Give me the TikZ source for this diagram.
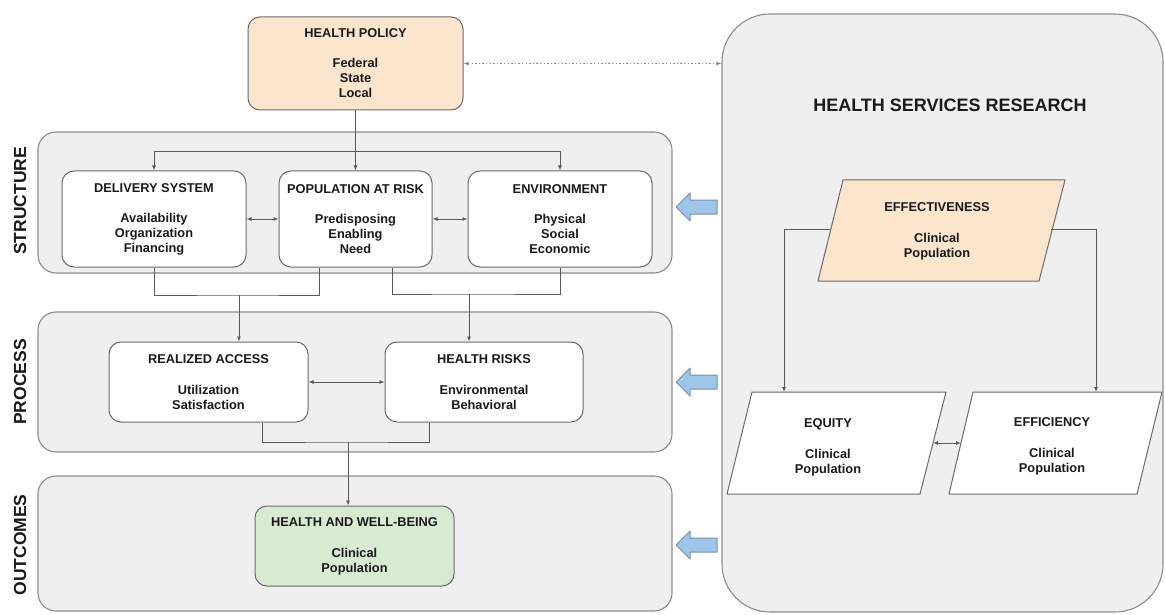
\documentclass[tikz,border=0pt]{standalone}
\usepackage{fontspec}
\setmainfont{Liberation Sans}
\usetikzlibrary{arrows.meta,calc}
\definecolor{panel}{HTML}{EFEFEF}
\definecolor{panelline}{HTML}{8C8C8C}
\definecolor{boxline}{HTML}{6B6B6B}
\definecolor{peach}{HTML}{FCE5CD}
\definecolor{mint}{HTML}{D9EAD3}
\definecolor{bluefill}{HTML}{9FC5E8}
\definecolor{blueline}{HTML}{7A8FA6}
\definecolor{conncol}{HTML}{5A5A5A}
\definecolor{dotcol}{HTML}{8A8A8A}
\definecolor{inkcol}{HTML}{1A1A1A}
\begin{document}
\begin{tikzpicture}[x=1pt,y=-1pt,
  panelbox/.style={draw=panelline,fill=panel,line width=1.1pt,rounded corners=18pt,inner sep=0pt},
  txt/.style={font=\fontsize{12.8}{15}\selectfont\bfseries,align=center,text=inkcol},
  box/.style={txt,draw=boxline,fill=white,line width=1pt,rounded corners=12pt,inner sep=0pt},
  tipa/.tip={Latex[length=5pt,width=4pt]},
  conn/.style={draw=conncol,line width=0.9pt,-tipa},
  conntwo/.style={draw=conncol,line width=0.9pt,tipa-tipa},
  wire/.style={draw=conncol,line width=0.9pt},
  sidelabel/.style={font=\fontsize{17.5}{20}\selectfont\bfseries,text=inkcol,rotate=90},
  bluearrow/.style={draw=blueline,fill=bluefill,line width=1pt,line join=round},
  para/.style={draw=boxline,line width=1pt,line join=round},
  leftarrow/.pic={\draw[bluearrow] (0,0) -- (14,-14) -- (14,-7) -- (41,-7) -- (41,7) -- (14,7) -- (14,14) -- cycle;}
]
\useasboundingbox (0,0) rectangle (1165,615);

% panels
\node[panelbox, minimum width=634pt, minimum height=141pt] (structure) at (355,202.5) {};
\node[panelbox, minimum width=634pt, minimum height=140pt] (process) at (355,382) {};
\node[panelbox, minimum width=634pt, minimum height=135pt] (outcomes) at (355,543.5) {};
\node[panelbox, rounded corners=48pt, minimum width=441pt, minimum height=598pt] (hsr) at (942.5,313) {};

% side labels
\node[sidelabel] (lstruct) at (20,201) {STRUCTURE};
\node[sidelabel] (lproc) at (20,382) {PROCESS};
\node[sidelabel] (lout) at (20,545) {OUTCOMES};

% health policy
\node[box, fill=peach, minimum width=215pt, minimum height=93pt] (hp) at (355.5,63.5)
  {HEALTH POLICY\\[15pt]Federal\\State\\Local};

% structure boxes
\node[box, minimum width=184pt, minimum height=96pt] (del) at (154,219)
  {DELIVERY SYSTEM\\[15pt]Availability\\Organization\\Financing};
\node[box, minimum width=153pt, minimum height=96pt] (pop) at (355.5,219)
  {POPULATION AT RISK\\[15pt]Predisposing\\Enabling\\Need};
\node[box, minimum width=184pt, minimum height=96pt] (env) at (560,219)
  {ENVIRONMENT\\[15pt]Physical\\Social\\Economic};

% process boxes
\node[box, minimum width=199pt, minimum height=80pt] (ra) at (208.5,382)
  {REALIZED ACCESS\\[16pt]Utilization\\Satisfaction};
\node[box, minimum width=198pt, minimum height=80pt] (hr) at (484,382)
  {HEALTH RISKS\\[16pt]Environmental\\Behavioral};

% outcome box
\node[box, fill=mint, minimum width=199pt, minimum height=80pt] (hwb) at (354.5,546)
  {HEALTH AND WELL-BEING\\[16pt]Clinical\\Population};

% connectors (left)
\coordinate (dist) at (355.5,151);
\draw[conn] (hp.south) -- (pop.north);
\draw[conn] (dist) -| (del.north);
\draw[conn] (dist) -| (env.north);
\draw[conntwo] (del.east) -- (pop.west);
\draw[conntwo] (pop.east) -- (env.west);

\coordinate (j1) at (239,295);
\coordinate (popA) at ($(pop.south west)+(41,0)$);
\draw[wire] (del.south) |- (j1) -| (popA);
\draw[conn] (j1) -- (j1 |- ra.north);

\coordinate (popB) at ($(pop.south west)+(114,0)$);
\coordinate (j2) at (469,294);
\draw[wire] (popB) |- (j2) -| (env.south);
\draw[conn] (j2) -- (j2 |- hr.north);

\draw[conntwo] (ra.east) -- (hr.west);

\coordinate (raB) at ($(ra.south west)+(154,0)$);
\coordinate (hrB) at ($(hr.south west)+(45,0)$);
\coordinate (j3) at (348,442);
\draw[wire] (raB) |- (j3) -| (hrB);
\draw[conn] (j3) -- (j3 |- hwb.north);

% dotted link
\draw[draw=dotcol, line width=1.4pt, dash pattern=on 1.4pt off 2.2pt, tipa-tipa] (hp.east) -- (hp.east -| hsr.west);

% blue arrows
\pic at (676,207) {leftarrow};
\pic at (676,382) {leftarrow};
\pic at (676,545) {leftarrow};

% right panel
\node[font=\fontsize{18}{20}\selectfont\bfseries, text=inkcol] (hsrtitle) at (950,105) {HEALTH SERVICES RESEARCH};

\draw[para, fill=peach] (843,180) -- (1065,180) -- (1039,281) -- (818,281) -- cycle;
\node[txt] (eff) at (937,231) {EFFECTIVENESS\\[16pt]Clinical\\Population};

\draw[para, fill=white] (752,392) -- (946,392) -- (920,494) -- (727,494) -- cycle;
\node[txt] (eq) at (828,447) {EQUITY\\[16pt]Clinical\\Population};

\draw[para, fill=white] (973,392) -- (1162,392) -- (1137,494) -- (949,494) -- cycle;
\node[txt] (ef) at (1052,446) {EFFICIENCY\\[16pt]Clinical\\Population};

\coordinate (effL) at (830,229);
\coordinate (effR) at (1051,229);
\coordinate (eqT) at (784,392);
\coordinate (efT) at (1096,392);
\draw[conn] (effL) -| (eqT);
\draw[conn] (effR) -| (efT);
\coordinate (eqR) at (933,443);
\coordinate (efL) at (961,443);
\draw[conntwo] (eqR) -- (efL);
\end{tikzpicture}
\end{document}
